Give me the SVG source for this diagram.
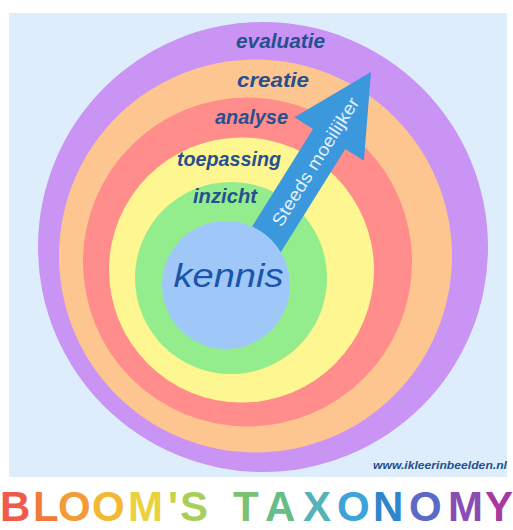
<svg xmlns="http://www.w3.org/2000/svg" width="513" height="530" viewBox="0 0 513 530">
<style>
.lbl{font-family:"Liberation Sans",Arial,sans-serif;font-weight:bold;font-style:italic;font-size:20px;fill:#26508f}
.ttl{font-family:"Liberation Sans",Arial,sans-serif;font-weight:bold;font-size:42px}
</style>
<rect x="0" y="0" width="513" height="530" fill="#ffffff"/>
<rect x="9" y="13" width="498" height="464" fill="#deedfb"/>
<g id="ring-evaluatie"><circle cx="263" cy="247" r="225" fill="#c994f3"/></g>
<g id="ring-creatie"><circle cx="255.5" cy="256" r="196.5" fill="#fdc590"/></g>
<g id="ring-analyse"><circle cx="247.5" cy="262" r="164.5" fill="#fe8d8b"/></g>
<g id="ring-toepassing"><circle cx="241.5" cy="270" r="132.5" fill="#fef690"/></g>
<g id="ring-inzicht"><circle cx="231" cy="278" r="96" fill="#94ed8d"/></g>
<g id="connectors">
<g id="arrow" transform="translate(371,72) rotate(32)">
<polygon points="0,0 41,79 19,79 19,250 -19,250 -19,79 -41,79" fill="#3c98dd"/>
<text transform="translate(6.5,105.5) rotate(-90)" text-anchor="middle" font-family="Liberation Sans, Arial, sans-serif" font-size="18" fill="#e3f0fb" textLength="148" lengthAdjust="spacingAndGlyphs">Steeds moeilijker</text>
</g>
</g>
<g id="node-kennis"><circle cx="226" cy="285" r="64" fill="#9fc8f9"/>
<text x="228.5" y="287" text-anchor="middle" font-family="Liberation Sans, Arial, sans-serif" font-style="italic" font-size="33" fill="#1b54ab" textLength="110" lengthAdjust="spacingAndGlyphs">kennis</text></g>
<g id="labels">
<text class="lbl" x="236" y="48" textLength="89" lengthAdjust="spacingAndGlyphs">evaluatie</text>
<text class="lbl" x="237" y="87" textLength="72" lengthAdjust="spacingAndGlyphs">creatie</text>
<text class="lbl" x="215" y="124" textLength="73" lengthAdjust="spacingAndGlyphs">analyse</text>
<text class="lbl" x="177" y="166" textLength="104" lengthAdjust="spacingAndGlyphs">toepassing</text>
<text class="lbl" x="193" y="203" textLength="64" lengthAdjust="spacingAndGlyphs">inzicht</text>
</g>
<text x="373" y="469" font-family="Liberation Sans, Arial, sans-serif" font-style="italic" font-weight="bold" font-size="11" fill="#26508f" textLength="134" lengthAdjust="spacingAndGlyphs">www.ikleerinbeelden.nl</text>
<text class="ttl" y="521"><tspan x="0" fill="#ef5a4b">B</tspan><tspan x="33" fill="#f27b3c">L</tspan><tspan x="58" fill="#f59a39">O</tspan><tspan x="92" fill="#f4b934">O</tspan><tspan x="128" fill="#e9d23d">M</tspan><tspan x="168" fill="#c3d44c">'</tspan><tspan x="180" fill="#a6cf5c">S</tspan><tspan x="233" fill="#7cc071">T</tspan><tspan x="265" fill="#66bd86">A</tspan><tspan x="303" fill="#55b3b8">X</tspan><tspan x="337" fill="#3ea3d8">O</tspan><tspan x="373" fill="#2f86cc">N</tspan><tspan x="409" fill="#5a6ac6">O</tspan><tspan x="448" fill="#8a4db6">M</tspan><tspan x="485" fill="#a8399f">Y</tspan></text>
</svg>
